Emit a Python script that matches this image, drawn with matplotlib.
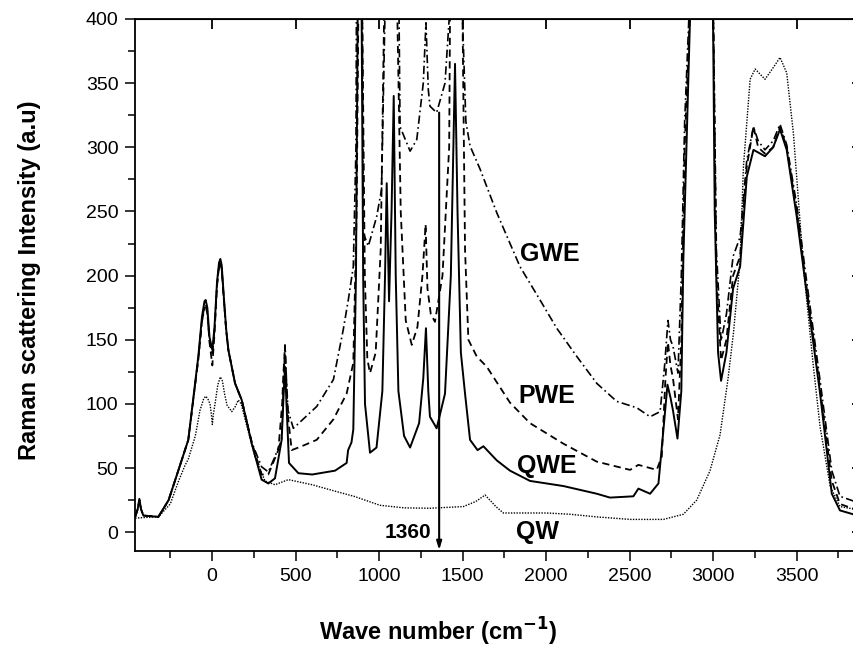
import matplotlib
matplotlib.use("Agg")
import matplotlib.pyplot as plt
from matplotlib.ticker import MultipleLocator

plt.rcParams['font.family'] = ['Liberation Sans', 'DejaVu Sans']

# Raman spectra (wave number, intensity)
qw_x = [-460, -400, -321, -250, -200, -162, -142, -100, -72, -50, -38, -25, -12, -4, 2, 8, 18, 35, 50,
        62, 75, 90, 118, 140, 157, 175, 198, 257, 317, 377, 457, 600, 737, 850, 1006, 1150, 1305, 1505,
        1580, 1635, 1700, 1744, 2004, 2144, 2300, 2503, 2703, 2822, 2902, 2982, 3042, 3090, 3122, 3162,
        3182, 3222, 3252, 3311, 3360, 3401, 3441, 3481, 3541, 3600, 3641, 3701, 3760, 3892]
qw_y = [11, 11.5, 12, 22, 40, 52, 57, 75, 95, 104, 106, 104, 100, 92, 84, 92, 100, 115, 121,
        118, 108, 99, 94, 98, 103, 100, 88, 59, 40, 37, 41, 37, 32, 28, 21, 19, 18.7, 20,
        24, 29, 20, 15, 15, 14, 12, 10, 10, 14, 25, 48, 76, 120, 155, 212,
        285, 353, 361, 353, 362, 370, 358, 311, 207, 130, 82, 36, 20, 17]

qwe_x = [-460, -445, -435, -425, -411, -321, -260, -202, -142, -82, -60, -45, -38, -28, -15, 2, 15, 30,
         42, 50, 58, 70, 85, 98, 138, 178, 238, 297, 337, 377, 417, 428, 437, 446, 461, 517, 600, 737,
         806, 815, 835, 846, 862, 872, 882, 896, 905, 916, 946, 985, 1020, 1036, 1046, 1060, 1075,
         1088, 1100, 1116, 1150, 1186, 1240, 1265, 1281, 1295, 1305, 1345, 1395, 1430, 1455, 1470,
         1490, 1515, 1545, 1590, 1625, 1705, 1784, 1904, 2104, 2304, 2383, 2523, 2553, 2623, 2673,
         2703, 2727, 2745, 2760, 2787, 2810, 2822, 2862, 2880, 2980, 3000, 3010, 3030, 3048, 3080,
         3120, 3162, 3202, 3242, 3311, 3360, 3401, 3441, 3501, 3561, 3641, 3711, 3760, 3892]
qwe_y = [12, 18, 26, 18, 13, 12, 25, 48, 72, 137, 168, 180, 181, 175, 152, 142, 160, 195,
         210, 213, 208, 185, 158, 142, 116, 103, 69, 41, 38, 42, 72, 105, 129, 100, 54, 46, 45, 48,
         54, 64, 70, 80, 200, 400, 700, 400, 200, 100, 62, 66, 110, 200, 272, 180, 250,
         340, 200, 110, 75, 66, 85, 120, 159, 110, 90, 81, 108, 200, 365, 250,
         140, 108, 72, 64, 67, 56, 48, 40, 36, 30, 27, 28, 34, 30, 38,
         80, 115, 105, 95, 73, 110, 212, 400, 800, 800, 400, 250, 140, 118, 140,
         190, 207, 277, 298, 293, 300, 314, 298, 246, 186, 108, 30, 17, 12]

pwe_x = [-460, -445, -435, -425, -411, -321, -260, -202, -142, -82, -60, -45, -38, -28, -15, 2, 15, 30,
         42, 50, 58, 70, 85, 98, 138, 178, 238, 297, 337, 397, 420, 428, 437, 446, 455, 477, 537, 627,
         727, 806, 846, 866, 876, 886, 900, 915, 930, 946, 980, 1010, 1030, 1040, 1100, 1110, 1130,
         1160, 1196, 1230, 1260, 1279, 1290, 1310, 1335, 1380, 1420, 1440, 1490, 1500, 1515, 1535,
         1585, 1645, 1784, 1904, 2104, 2304, 2503, 2553, 2663, 2693, 2715, 2730, 2745, 2760, 2790,
         2810, 2830, 2860, 2880, 2980, 3002, 3020, 3048, 3080, 3120, 3162, 3202, 3242, 3270, 3311,
         3360, 3401, 3441, 3501, 3561, 3641, 3711, 3760, 3892]
pwe_y = [12, 18, 25, 18, 13, 12, 25, 48, 72, 135, 165, 177, 178, 172, 148, 130, 155, 192,
         207, 210, 205, 183, 157, 142, 116, 103, 70, 45, 45, 64, 100, 125, 145, 115, 90, 64, 67, 72,
         88, 108, 132, 250, 400, 700, 400, 200, 135, 124, 140, 220, 400, 700, 700, 400, 250,
         165, 146, 160, 200, 240, 190, 170, 164, 200, 300, 700, 700, 400, 220, 150,
         137, 129, 101, 85, 69, 55, 48.6, 52.5, 48.6, 59, 120, 148, 130, 120, 88,
         150, 300, 400, 800, 800, 400, 200, 134, 150, 200, 215, 285, 316, 300, 295,
         300, 316, 300, 250, 190, 112, 40, 22, 16]

gwe_x = [-460, -445, -435, -425, -411, -321, -260, -202, -142, -82, -60, -45, -38, -28, -15, 2, 15, 30,
         42, 50, 58, 70, 85, 98, 138, 178, 238, 297, 337, 377, 417, 428, 437, 446, 455, 487, 627, 727,
         786, 816, 846, 862, 872, 900, 906, 936, 986, 1015, 1035, 1045, 1110, 1120, 1126, 1186, 1226,
         1265, 1281, 1295, 1305, 1345, 1395, 1420, 1435, 1490, 1500, 1520, 1545, 1605, 1705, 1844,
         1964, 2064, 2184, 2304, 2423, 2543, 2623, 2683, 2710, 2730, 2745, 2760, 2790, 2810, 2830,
         2855, 2880, 2980, 3002, 3020, 3048, 3080, 3120, 3162, 3202, 3242, 3270, 3311, 3360, 3401,
         3441, 3501, 3561, 3641, 3711, 3760, 3892]
gwe_y = [12, 18, 25, 18, 13, 12, 25, 48, 72, 135, 164, 175, 176, 170, 150, 138, 158, 193,
         207, 210, 205, 183, 157, 142, 116, 103, 70, 51, 47, 59, 72, 115, 146, 118, 95, 81, 98, 119,
         158, 181, 207, 300, 700, 400, 233, 223, 246, 267, 400, 700, 700, 400, 316, 297, 306,
         350, 397, 345, 332, 327, 350, 400, 700, 700, 400, 320, 301, 283, 249, 207,
         181, 159, 137, 116, 102, 97, 90, 94, 130, 165, 150, 145, 124, 200, 320,
         400, 800, 800, 400, 220, 149, 170, 215, 230, 290, 316, 305, 298, 305, 318,
         302, 255, 195, 118, 48, 28, 22]

labels = ["GWE", "PWE", "QWE", "QW"]
label_x = [1845, 1834, 1824, 1820]
label_y = [217, 106, 52, 0]
arrow_x = 1360
arrow_top = 327

fig = plt.figure(figsize=(8.54, 6.56), dpi=100)
ax = fig.add_axes([0.1581, 0.1601, 0.8513, 0.811])

ax.plot(qw_x, qw_y, color='black', lw=1.0, linestyle=(0, (1, 1)))
ax.plot(qwe_x, qwe_y, color='black', lw=1.4, linestyle='-')
ax.plot(pwe_x, pwe_y, color='black', lw=1.3, linestyle=(0, (4, 2.5)))
ax.plot(gwe_x, gwe_y, color='black', lw=1.2, linestyle=(0, (5, 2, 1, 2)))

for t, lx, ly in zip(labels, label_x, label_y):
    ax.text(lx, ly, t, fontsize=18, fontweight='bold', ha='left', va='center')

# 1360 marker
ax.annotate('', xy=(arrow_x, -14), xytext=(arrow_x, arrow_top),
            arrowprops=dict(arrowstyle='-|>,head_length=0.5,head_width=0.15',
                            color='black', lw=1.5, shrinkA=0, shrinkB=0))
ax.text(arrow_x - 45, 0, "1360", fontsize=15, fontweight='bold', ha='right', va='center')

ax.set_xlim(-461, 3892)
ax.set_ylim(-14.6, 400)

ax.xaxis.set_major_locator(MultipleLocator(500))
ax.xaxis.set_minor_locator(MultipleLocator(250))
ax.yaxis.set_major_locator(MultipleLocator(50))
ax.yaxis.set_minor_locator(MultipleLocator(25))
ax.tick_params(axis='both', which='major', direction='out', length=7, width=1.1, labelsize=14, pad=5)
ax.tick_params(axis='both', which='minor', direction='out', length=5, width=1.1)

# inward ticks on top and right
top = ax.secondary_xaxis('top')
top.xaxis.set_major_locator(MultipleLocator(500))
top.tick_params(direction='in', length=7, width=1.3, labeltop=False)
right = ax.secondary_yaxis('right')
right.yaxis.set_major_locator(MultipleLocator(50))
right.tick_params(direction='in', length=7, width=1.3, labelright=False)

for s in ax.spines.values():
    s.set_linewidth(1.3)

ax.set_xlabel("Wave number (cm$^{\\mathbf{-1}}$)", fontsize=17, fontweight='bold')
ax.set_ylabel("Raman scattering Intensity (a.u)", fontsize=17, fontweight='bold')
ax.xaxis.set_label_coords(0.417, -0.122)
ax.yaxis.set_label_coords(-0.13, 0.509)

plt.savefig('out.png', dpi=100)
